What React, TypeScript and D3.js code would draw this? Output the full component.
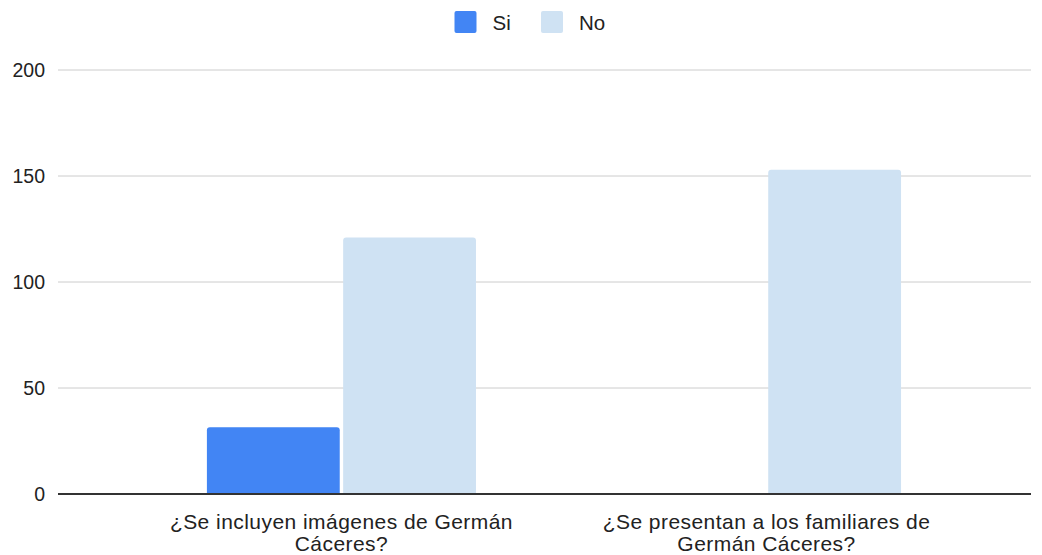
import React from "react";
import * as d3 from "d3";

const categories: string[][] = [
  ["¿Se incluyen imágenes de Germán", "Cáceres?"],
  ["¿Se presentan a los familiares de", "Germán Cáceres?"],
];
const seriesNames = ["Si", "No"];
const siValues = [31.5, 0];
const noValues = [121, 153];
const yTicks = [0, 50, 100, 150, 200];
const colors = ["#4285f4", "#cfe2f3"];

const W = 1042;
const H = 555;
const M = { left: 58, right: 1031, top: 70, bottom: 494 };
const FONT = "'Liberation Sans', Arial, sans-serif";

export default function App() {
  const y = d3.scaleLinear().domain([0, 200]).range([M.bottom, M.top]);
  const x0 = d3
    .scaleBand<number>()
    .domain(d3.range(categories.length))
    .range([M.left, M.right])
    .paddingInner(0.367)
    .paddingOuter(0.328)
    .align(0.534);
  const x1 = d3
    .scaleBand<number>()
    .domain(d3.range(seriesNames.length))
    .range([0, x0.bandwidth()])
    .paddingInner(0.025);
  const series = [siValues, noValues];

  return (
    <svg
      width={W}
      height={H}
      style={{ position: "absolute", left: 0, top: 0, background: "#fff" }}
      fontFamily={FONT}
    >
      {/* legend */}
      {seriesNames.map((n, i) => {
        const lx = i === 0 ? 454.5 : 541;
        const tx = i === 0 ? 492.5 : 579;
        return (
          <g key={n}>
            <rect x={lx} y={11} width={22} height={22} rx={2} fill={colors[i]} />
            <text x={tx} y={29.5} fontSize={20.5} fill="#222">
              {n}
            </text>
          </g>
        );
      })}
      {/* grid */}
      {yTicks.map((t) => (
        <g key={t}>
          {t !== 0 && (
            <line x1={M.left} x2={M.right} y1={y(t)} y2={y(t)} stroke="#cccccc" strokeWidth={1} />
          )}
          <text x={45} y={y(t)} dy="0.36em" textAnchor="end" fontSize={19.5} fill="#222">
            {t}
          </text>
        </g>
      ))}
      {/* bars */}
      {categories.map((_, ci) =>
        series.map((vals, si) => {
          const v = vals[ci];
          if (v <= 0) return null;
          const bx = (x0(ci) as number) + (x1(si) as number);
          const by = y(v);
          const w = x1.bandwidth();
          const r = 3;
          const d = `M${bx},${M.bottom}V${by + r}Q${bx},${by} ${bx + r},${by}H${bx + w - r}Q${bx + w},${by} ${bx + w},${by + r}V${M.bottom}Z`;
          return <path key={`${ci}-${si}`} d={d} fill={colors[si]} />;
        })
      )}
      {/* baseline */}
      <line x1={M.left} x2={M.right} y1={M.bottom} y2={M.bottom} stroke="#333" strokeWidth={2} />
      {/* category labels */}
      {categories.map((lines, ci) => {
        const cx = (x0(ci) as number) + x0.bandwidth() / 2;
        return (
          <text key={ci} textAnchor="middle" fontSize={21} letterSpacing={0.45} fill="#222">
            {lines.map((l, li) => (
              <tspan key={li} x={cx} y={529 + li * 22}>
                {l}
              </tspan>
            ))}
          </text>
        );
      })}
    </svg>
  );
}
